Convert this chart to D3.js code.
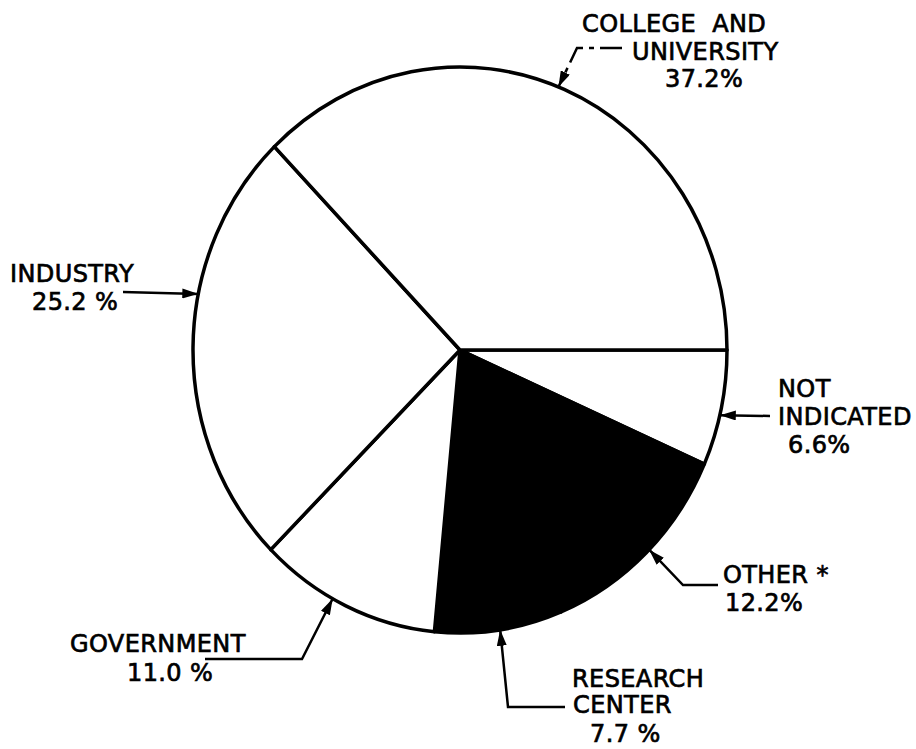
<!DOCTYPE html>
<html>
<head>
<meta charset="utf-8">
<script src="https://cdn.jsdelivr.net/npm/d3@7"></script>
<style>
  body { margin: 0; background: #fff; }
  svg text { font-family: "DejaVu Sans", sans-serif; font-size: 24px; letter-spacing: 0.4px; fill: #000; stroke: #000; stroke-width: 0.7px; white-space: pre; }
</style>
</head>
<body>
<div id="pie-chart"></div>
<script>
// data, clockwise starting from 3 o'clock
const categories = ["NOT INDICATED", "OTHER", "RESEARCH CENTER", "GOVERNMENT", "INDUSTRY", "COLLEGE AND UNIVERSITY"];
const values = [6.6, 12.2, 7.7, 11.0, 25.2, 37.2];
const labelLines = [
    ["NOT", "INDICATED"],
    ["OTHER *"],
    ["RESEARCH", "CENTER"],
    ["GOVERNMENT"],
    ["INDUSTRY"],
    ["COLLEGE  AND", "UNIVERSITY"]
];
const pctLabels = ["6.6%", "12.2%", "7.7 %", "11.0 %", "25.2 %", "37.2%"];

document.addEventListener("DOMContentLoaded", function () {
    const width = 916, height = 749;
    const cx = 460, cy = 350;
    const rx = 267, ry = 283; // the scan is a bit stretched vertically

    const svg = d3.select("#pie-chart")
        .append("svg")
        .attr("width", width)
        .attr("height", height);

    svg.append("defs").append("marker")
        .attr("id", "arrow")
        .attr("viewBox", "0 0 16 10")
        .attr("refX", 16)
        .attr("refY", 5)
        .attr("markerWidth", 16)
        .attr("markerHeight", 10)
        .attr("markerUnits", "userSpaceOnUse")
        .attr("orient", "auto")
        .append("path")
        .attr("d", "M0,0 L16,5 L0,10 Z")
        .attr("fill", "#000");

    const fill = d3.scaleOrdinal()
        .domain(categories)
        .range(["#fff", "#000", "#000", "#fff", "#fff", "#fff"]);

    const pie = d3.pie()
        .sort(null)
        .startAngle(Math.PI / 2)
        .endAngle(Math.PI / 2 + 2 * Math.PI);

    const arcs = pie(values);
    const arc = d3.arc().innerRadius(0).outerRadius(rx);

    const g = svg.append("g")
        .attr("transform", `translate(${cx},${cy}) scale(1,${ry / rx})`);

    g.selectAll("path.slice")
        .data(arcs)
        .join("path")
        .attr("class", "slice")
        .attr("d", arc)
        .attr("fill", (d, i) => fill(categories[i]))
        .attr("stroke", "#000")
        .attr("stroke-width", 3.5)
        .attr("stroke-linejoin", "round")
        .attr("vector-effect", "non-scaling-stroke");

    // point on the outline at a fraction of the slice's sweep
    function edgePoint(d, frac) {
        const a = d.startAngle + frac * (d.endAngle - d.startAngle);
        return [cx + rx * Math.sin(a), cy - ry * Math.cos(a)];
    }

    //callout layout: where the label sits and how the leader bends
    const callouts = [
        { frac: 0.56, bends: [[770, 416]], text: [778, 397], pct: [788, 453] },
        { frac: 0.48, bends: [[718, 585], [683, 585]], text: [723, 583], pct: [725, 611] },
        { frac: 0.49, bends: [[565, 707], [508, 707]], text: [572, 687], pct: [590, 742] },
        { frac: 0.58, bends: [[205, 659], [302, 659]], text: [70, 652], pct: [127, 681] },
        { frac: 0.62, bends: [[123, 292]], text: [10, 282], pct: [32, 310] },
        { frac: 0.49, bends: [[622, 48], [577, 48]], text: [582, 32], pct: [665, 87], dash: true }
    ];
    const lineGap = [28, 0, 26, 0, 0, 28];
    const lineShift = [[0, 0], [0], [0, 1], [0], [0], [0, 50]];

    arcs.forEach((d, i) => {
        const c = callouts[i];
        const pts = c.bends.concat([edgePoint(d, c.frac)]);
        svg.append("path")
            .attr("d", d3.line()(pts))
            .attr("fill", "none")
            .attr("stroke", "#000")
            .attr("stroke-width", 2.5)
            .attr("stroke-dasharray", c.dash ? "22,6,5,6" : null)
            .attr("marker-end", "url(#arrow)");

        labelLines[i].forEach((t, j) => {
            svg.append("text")
                .attr("x", c.text[0] + lineShift[i][j])
                .attr("y", c.text[1] + j * lineGap[i])
                .text(t);
        });

        svg.append("text")
            .attr("x", c.pct[0])
            .attr("y", c.pct[1])
            .text(pctLabels[i]);
    });
});
</script>
</body>
</html>
